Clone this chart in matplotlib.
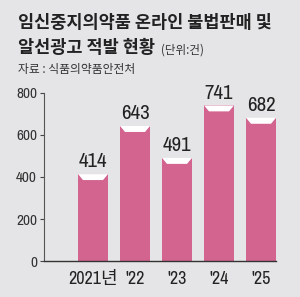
import matplotlib
matplotlib.use("Agg")
import matplotlib.pyplot as plt
from matplotlib.patches import Polygon

categories = ["2021년", "'22", "'23", "'24", "'25"]
values = [414, 643, 491, 741, 682]
yticks = [0, 200, 400, 600, 800]

KR = "Noto Sans CJK KR"
NUM = ["Archivo Narrow", KR]

BG = "#e5e5e7"
BAR = "#d2648f"

fig = plt.figure(figsize=(3.0, 2.97), dpi=100, facecolor=BG)
ax = fig.add_axes([0.1467, 0.1212, 0.92 - 0.1467, 0.6869 - 0.1212])
ax.set_facecolor(BG)

x = list(range(len(values)))
w = 0.714
ax.bar(x, values, width=w, color=BAR, zorder=2)
ax.set_xlim(-1.167, 4.357)
ax.set_ylim(0, 800)

px_per_unit_y = 168 / 800
cap_h = 6 / px_per_unit_y
inset = 5 / 42
for xi, v in zip(x, values):
    poly = Polygon([(xi - w / 2, v), (xi + w / 2, v),
                    (xi + w / 2 - inset, v - cap_h), (xi - w / 2 + inset, v - cap_h)],
                   closed=True, facecolor="white", edgecolor="none", zorder=3)
    ax.add_patch(poly)
    ax.annotate(str(v), (xi, v), xytext=(0, 2), textcoords="offset points",
                ha="center", va="bottom", fontsize=15, color="#222222",
                family=NUM, annotation_clip=False)

ax.set_yticks(yticks)
ax.set_yticklabels([str(t) for t in yticks], family=NUM, fontsize=11, color="#333333")
ax.set_xticks(x)
ax.set_xticklabels(categories, family=NUM, fontsize=13, color="#222222")
ax.tick_params(axis="x", length=0, pad=7)
ax.tick_params(axis="y", length=3, width=0.8, color="#444444", pad=2)
for s in ["top", "right"]:
    ax.spines[s].set_visible(False)
ax.spines["left"].set_color("#555555")
ax.spines["bottom"].set_color("#333333")
ax.spines["left"].set_linewidth(0.8)
ax.spines["bottom"].set_linewidth(1.0)

fig.text(18 / 300, 1 - 23 / 297, "임신중지의약품 온라인 불법판매 및", family=[KR], fontweight="bold",
         fontsize=12.6, color="#222222", va="center", ha="left")
fig.text(18 / 300, 1 - 48 / 297, "알선광고 적발 현황", family=[KR], fontweight="bold",
         fontsize=12.6, color="#222222", va="center", ha="left")
fig.text(161 / 300, 1 - 50 / 297, "(단위:건)", family=[KR], fontsize=8.3, color="#333333",
         va="center", ha="left")
fig.text(18 / 300, 1 - 70 / 297, "자료 : 식품의약품안전처", family=[KR], fontsize=8.5,
         color="#333333", va="center", ha="left")

fig.savefig("out.png", dpi=100, facecolor=BG)
